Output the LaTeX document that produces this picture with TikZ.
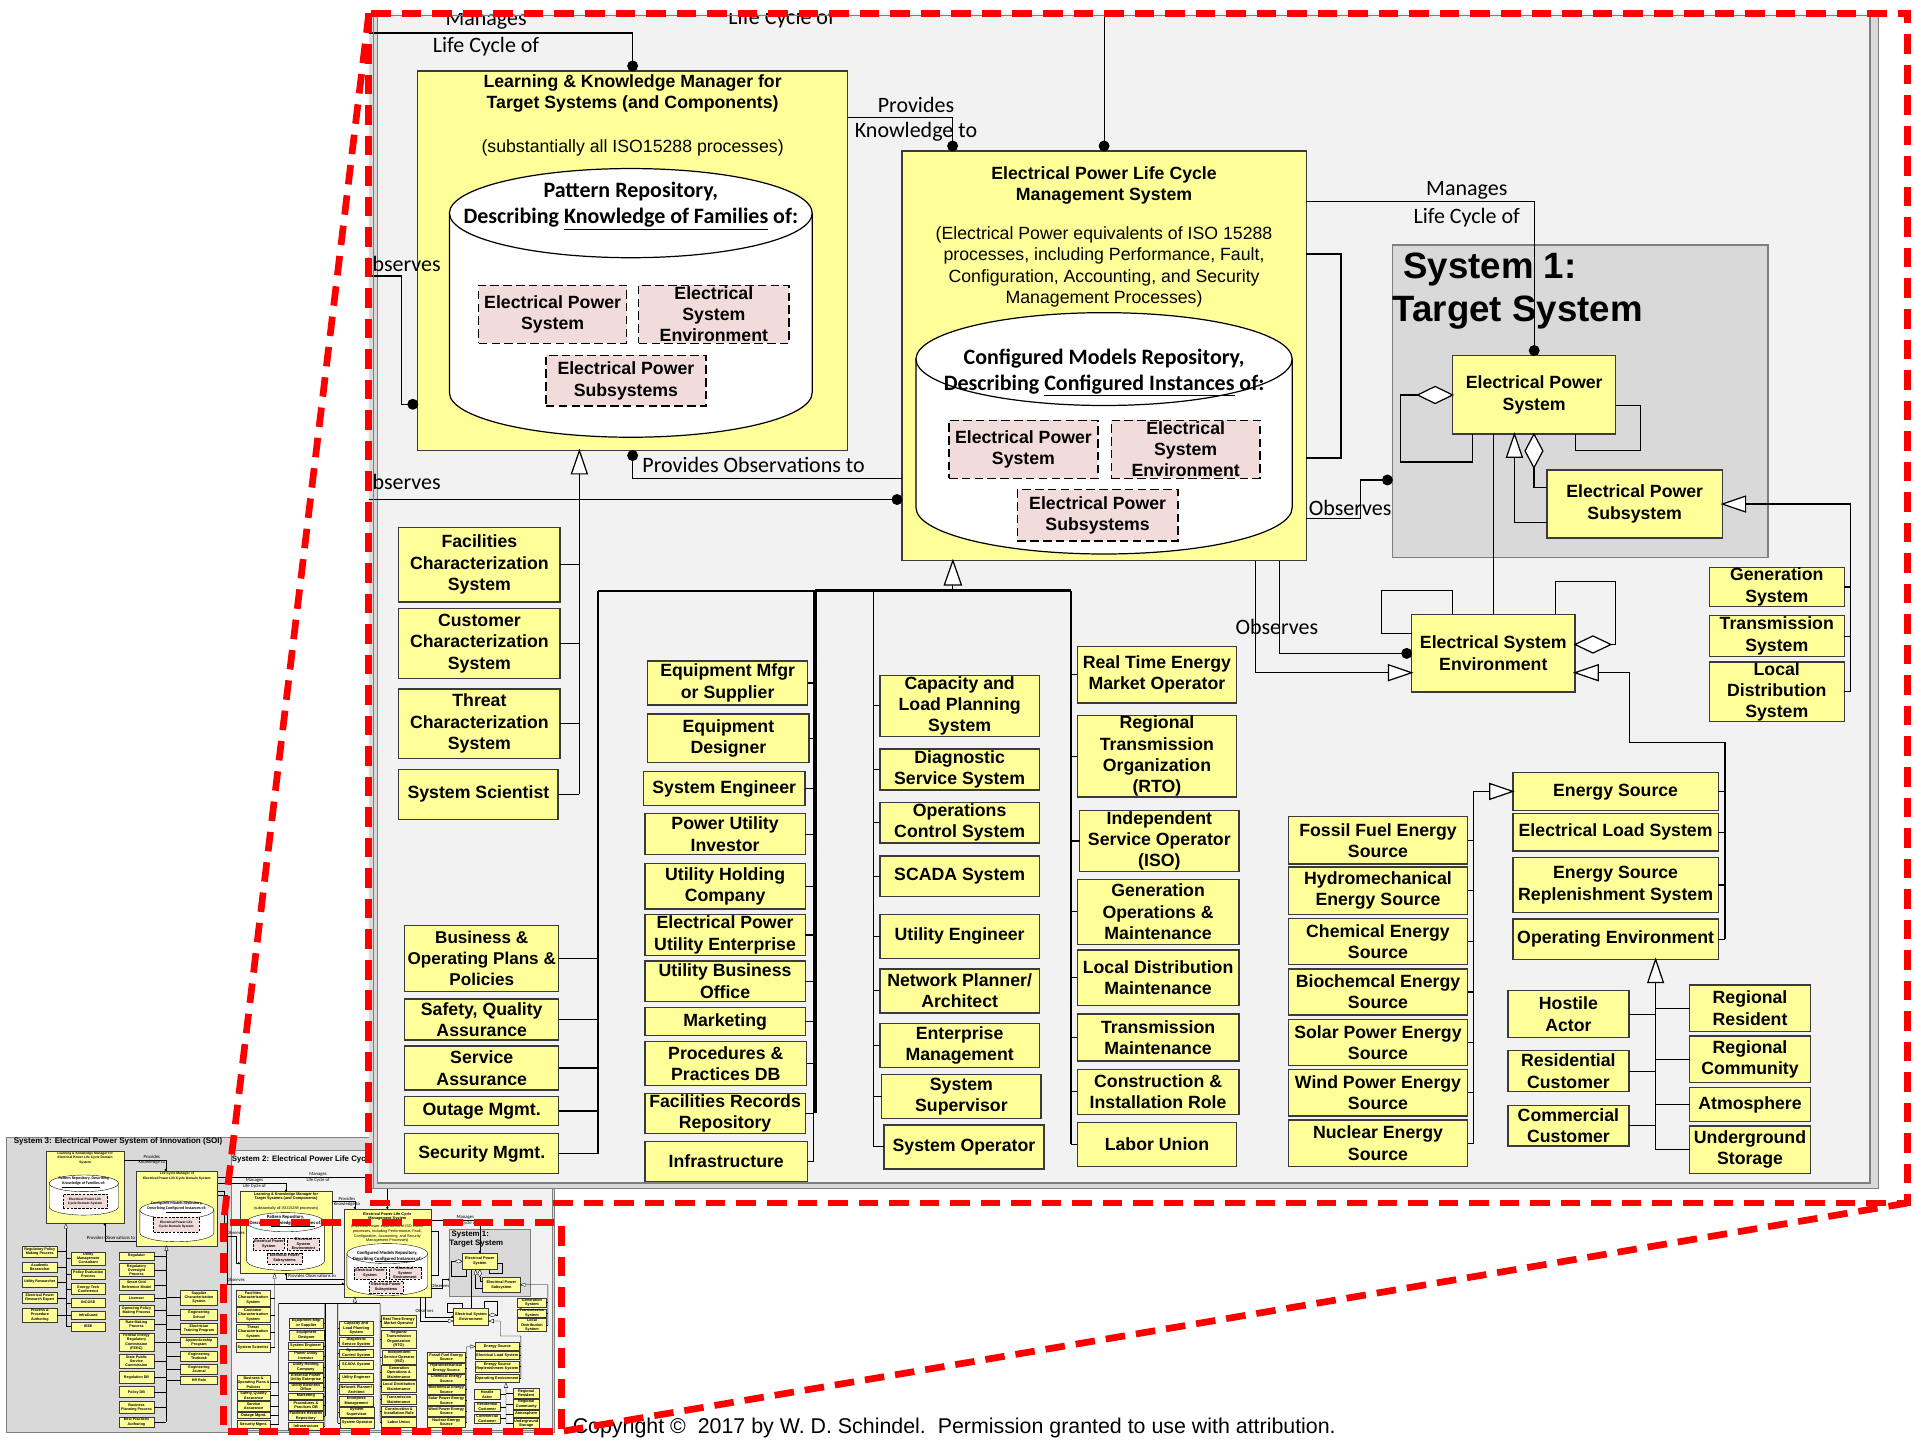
\documentclass[tikz,border=0pt]{standalone}
\usepackage{fontspec}
\setmainfont{Liberation Sans}
\newfontfamily\calfont{Carlito}
\usetikzlibrary{calc}

% base unit for line widths (reduced inside the small overview)
\newdimen\ulw
\ulw=1pt

\definecolor{boxyellow}{HTML}{FFFF99}
\definecolor{boxpink}{HTML}{F2DCDB}
\definecolor{panellight}{HTML}{F2F2F2}
\definecolor{panelgray}{HTML}{D9D9D9}
\definecolor{borderdark}{HTML}{3A3A3A}
\definecolor{bordergray}{HTML}{7F7F7F}

\tikzset{
  every node/.style={inner sep=0pt, outer sep=0pt},
  ybox/.style={draw=borderdark, fill=boxyellow, line width=1.1\ulw, align=center,
    font=\fontsize{14.5}{17.5}\selectfont\bfseries},
  pbox/.style={draw=black, fill=boxpink, line width=1\ulw, dash pattern={on 7\ulw off 3.5\ulw},
    align=center, font=\fontsize{14.5}{17.5}\selectfont\bfseries},
  graypanel/.style={draw=bordergray, fill=panelgray, line width=1.2\ulw},
  conn/.style={draw=black, line width=0.9\ulw},
  bus/.style={draw=black, line width=1.4\ulw},
  heavybus/.style={draw=black, line width=2.2\ulw},
  hollow/.style={draw=black, fill=white, line width=1\ulw, line join=miter},
  lbl/.style={font=\calfont\fontsize{18}{21}\selectfont},
  repo/.style={align=center, font=\calfont\bfseries\fontsize{18}{21.5}\selectfont},
  boxtitle/.style={align=center, font=\fontsize{14.5}{17.2}\selectfont\bfseries},
  boxdesc/.style={align=center, font=\fontsize{14.5}{17.6}\selectfont},
  bigtitle/.style={anchor=west, font=\fontsize{30}{34}\selectfont\bfseries},
  redframe/.style={draw=red, line width=5.5pt, dash pattern=on 16pt off 9pt},
  tbox/.style={ybox, font=\fontsize{3}{3.5}\selectfont\bfseries},
  tpbox/.style={pbox, font=\fontsize{2.7}{3.2}\selectfont\bfseries},
  tlbl/.style={font=\calfont\fontsize{3.9}{4.5}\selectfont},
  ttitle/.style={align=center, font=\fontsize{2.7}{3.4}\selectfont\bfseries},
  trepo/.style={align=center, font=\calfont\bfseries\fontsize{3.3}{4}\selectfont},
}

% box given by its corners: [style]{name}{x1}{y1}{x2}{y2}{text}
\newcommand\ybx[7][ybox]{%
  \node[#1, minimum width={(#5)-(#3)}, minimum height={(#6)-(#4)}] (#2)
    at ({((#3)+(#5))/2},{((#4)+(#6))/2}) {#7};}
% repository cylinder: {cx}{top centre y}{bottom centre y}{rx}{ry}
\newcommand\cyl[5]{%
  \filldraw[fill=white, draw=black, line width=1\ulw]
    ({(#1)-(#4)},#2) -- ({(#1)-(#4)},#3)
    arc[start angle=180, end angle=0, x radius=#4, y radius=#5]
    -- ({(#1)+(#4)},#2) -- cycle;
  \filldraw[fill=white, draw=black, line width=1\ulw] (#1,#2) ellipse[x radius=#4, y radius=#5];}
% hollow triangles (tip x, tip y, length, half width) and diamonds
\newcommand\triup[4]{\filldraw[hollow] (#1,#2) -- ++(-#4,#3) -- ++({2*#4},0) -- cycle;}
\newcommand\trileft[4]{\filldraw[hollow] (#1,#2) -- ++(#3,-#4) -- ++(0,{2*#4}) -- cycle;}
\newcommand\triright[4]{\filldraw[hollow] (#1,#2) -- ++(-#3,-#4) -- ++(0,{2*#4}) -- cycle;}
\newcommand\diah[4]{\filldraw[hollow] (#1,#3) -- ({((#1)+(#2))/2},{(#3)-(#4)}) -- (#2,#3) -- ({((#1)+(#2))/2},{(#3)+(#4)}) -- cycle;}
\newcommand\diav[4]{\filldraw[hollow] (#1,#2) -- ({(#1)+(#4)},{((#2)+(#3))/2}) -- (#1,#3) -- ({(#1)-(#4)},{((#2)+(#3))/2}) -- cycle;}
\newcommand\dotat[2]{\fill (#1,#2) circle[radius=4.5];}
\newcommand\tickE[2]{\draw[conn] (#1.east) -- (#1.east -| #2);}
\newcommand\tickW[2]{\draw[conn] (#1.west) -- (#1.west -| #2);}

% System 2 (with the System 3 backdrop), drawn in its own coordinates
\newcommand\sysview[1]{%
  \filldraw[graypanel] (-546,-151) rectangle (1538,973);
  \filldraw[fill=panellight, draw=bordergray, line width=1.2\ulw] (309,-100) rectangle (1531,968.6);
  \coordinate (#1busA) at (474.4,0);
  \coordinate (#1busB) at (489.8,0);
  \coordinate (#1busC) at (666.2,0);
  \coordinate (#1busD) at (715.1,0);
  \coordinate (#1busE) at (876.7,0);
  \coordinate (#1busF) at (1206.7,0);
  \coordinate (#1busG) at (1412.4,0);
  \coordinate (#1busH) at (1355.6,0);
  \coordinate (#1busI) at (1515.4,0);
  % Learning & Knowledge Manager
  \ybx{#1lkm}{342}{58}{694}{369}{}
  \node[boxtitle] (#1lkmt) at (518,76.5) {Learning \& Knowledge Manager for\\Target Systems (and Components)};
  \node[boxdesc] (#1lkmd) at (518,121) {(substantially all ISO15288 processes)};
  \cyl{516.5}{174.5}{321.5}{148.5}{36.5}
  \node[repo] (#1lkmr) at (516.5,168.7) {Pattern Repository,\\Describing \underline{Knowledge of Families} of:};
  \ybx[pbox]{#1lkmeps}{392}{233.5}{513}{281}{Electrical Power\\System}
  \ybx[pbox]{#1lkmese}{523}{233.5}{646}{281}{Electrical\\System\\Environment}
  \ybx[pbox]{#1lkmsub}{447}{291}{578}{332.5}{Electrical Power\\Subsystems}
  % Life Cycle Management System
  \ybx{#1lcm}{738.5}{123.5}{1069.5}{459}{}
  \node[boxtitle] (#1lcmt) at (904,152) {Electrical Power Life Cycle\\Management System};
  \node[boxdesc] (#1lcmd) at (904,218.5) {(Electrical Power equivalents of ISO 15288\\processes, including Performance, Fault,\\Configuration, Accounting, and Security\\Management Processes)};
  \cyl{904}{294}{415.6}{154}{38}
  \node[repo] (#1lcmr) at (904,305) {Configured Models Repository,\\Describing \underline{Configured Instances} of:};
  \ybx[pbox]{#1lcmeps}{777}{344}{899}{391.5}{Electrical Power\\System}
  \ybx[pbox]{#1lcmese}{910}{344}{1031.6}{391.5}{Electrical\\System\\Environment}
  \ybx[pbox]{#1lcmsub}{833}{401}{964.5}{443}{Electrical Power\\Subsystems}
  % System 1
  \ybx[graypanel]{#1sysone}{1140}{200.6}{1447.7}{456.5}{}
  \node[bigtitle] (#1sysonea) at (1149,221) {System 1:};
  \node[bigtitle] (#1sysoneb) at (1140.5,256) {Target System};
  \ybx{#1eps}{1189.4}{291}{1323}{355.4}{Electrical Power\\System}
  \ybx{#1epsub}{1266.7}{384.9}{1410.3}{440.5}{Electrical Power\\Subsystem}
  \ybx{#1ese}{1155.8}{503}{1289.6}{566.6}{Electrical System\\Environment}
  \ybx{#1gen}{1399.6}{464.7}{1510}{496.6}{Generation\\System}
  \ybx{#1trs}{1399.6}{504.1}{1510}{537.5}{Transmission\\System}
  \ybx{#1lds}{1399.6}{541.9}{1510}{591}{Local\\Distribution\\System}
  % characterization column
  \ybx{#1fcs}{326.5}{431.8}{458.6}{493}{Facilities\\Characterization\\System}
  \ybx{#1ccs}{326.5}{498.2}{458.6}{555.4}{Customer\\Characterization\\System}
  \ybx{#1tcs}{326.5}{564}{458.6}{621}{Threat\\Characterization\\System}
  \ybx{#1sci}{326.5}{630}{457}{670.8}{System Scientist}
  % management processes column
  \ybx[ybox, font=\fontsize{14}{17.5}\selectfont\bfseries]{#1bop}{331.4}{757.7}{457.5}{811.8}{Business \&\\Operating Plans \&\\Policies}
  \ybx{#1sqa}{331.4}{818}{457.5}{851.5}{Safety, Quality\\Assurance}
  \ybx{#1sas}{331.4}{856.5}{457.5}{892.5}{Service\\Assurance}
  \ybx{#1oms}{331.4}{897.6}{457.5}{921.8}{Outage Mgmt.}
  \ybx{#1sms}{331.4}{928.2}{457.5}{960.9}{Security Mgmt.}
  % stakeholder column
  \ybx{#1emfg}{530.3}{541.2}{661.3}{577.3}{Equipment Mfgr\\or Supplier}
  \ybx{#1edes}{530.3}{584.5}{662.5}{624.3}{Equipment\\Designer}
  \ybx{#1seng}{527}{631.7}{659}{659.7}{System Engineer}
  \ybx{#1pui}{528}{666.2}{659.4}{699.9}{Power Utility\\Investor}
  \ybx{#1uhc}{528}{707}{659.4}{744.3}{Utility Holding\\Company}
  \ybx{#1epue}{528}{748.9}{659.4}{782.3}{Electrical Power\\Utility Enterprise}
  \ybx{#1ubo}{528}{786.9}{659.4}{819.9}{Utility Business\\Office}
  \ybx{#1mkt}{528}{824.9}{659.4}{848}{Marketing}
  \ybx{#1ppdb}{528}{852.6}{660.5}{888.8}{Procedures \&\\Practices DB}
  \ybx{#1frr}{528}{895.2}{659.4}{928.2}{Facilities Records\\Repository}
  \ybx{#1infra}{528}{934.9}{661.3}{967.3}{Infrastructure}
  % operations column
  \ybx{#1clp}{720.5}{552.9}{851}{603}{Capacity and\\Load Planning\\System}
  \ybx{#1dss}{720.5}{613.3}{851}{646.9}{Diagnostic\\Service System}
  \ybx{#1ocs}{720.5}{657}{851}{690.2}{Operations\\Control System}
  \ybx{#1scada}{720.5}{700.8}{851}{734}{SCADA System}
  \ybx{#1ueng}{720.5}{748.7}{851}{784.8}{Utility Engineer}
  \ybx{#1npa}{720.5}{793.3}{851}{829.3}{Network Planner/\\Architect}
  \ybx{#1emg}{720.5}{838}{851}{874}{Enterprise\\Management}
  \ybx{#1ssup}{722}{879.7}{852.4}{915.8}{System\\Supervisor}
  \ybx{#1sop}{723.8}{921}{854.8}{957.2}{System Operator}
  % market and maintenance column
  \ybx{#1rtem}{882}{529.4}{1012.6}{575.5}{Real Time Energy\\Market Operator}
  \ybx{#1rto}{882}{585.8}{1012.6}{652.6}{Regional\\Transmission\\Organization\\(RTO)}
  \ybx{#1iso}{884}{663.5}{1014.5}{713.7}{Independent\\Service Operator\\(ISO)}
  \ybx{#1gom}{882}{719.9}{1014.5}{773.2}{Generation\\Operations \&\\Maintenance}
  \ybx{#1ldm}{882}{777.9}{1014.5}{823.3}{Local Distribution\\Maintenance}
  \ybx{#1tmn}{882}{830.2}{1014.5}{868.8}{Transmission\\Maintenance}
  \ybx{#1cir}{882}{875.6}{1014.5}{912.3}{Construction \&\\Installation Role}
  \ybx{#1lun}{882}{918.9}{1012.6}{954.9}{Labor Union}
  % energy sources
  \ybx{#1ffes}{1055}{668.7}{1201.6}{707.5}{Fossil Fuel Energy\\Source}
  \ybx{#1hmes}{1055}{710}{1201.6}{748.6}{Hydromechanical\\Energy Source}
  \ybx{#1ces}{1055}{752}{1201.6}{789.6}{Chemical Energy\\Source}
  \ybx{#1bes}{1055}{793.4}{1201.6}{831}{Biochemcal Energy\\Source}
  \ybx{#1spes}{1055}{834.6}{1201.6}{872.6}{Solar Power Energy\\Source}
  \ybx{#1wpes}{1055}{875.5}{1201.6}{913.8}{Wind Power Energy\\Source}
  \ybx{#1nes}{1055}{917}{1201.6}{955.3}{Nuclear Energy\\Source}
  \ybx{#1es}{1238.7}{632.7}{1407}{663.8}{Energy Source}
  \ybx{#1els}{1238.7}{666}{1407}{696.8}{Electrical Load System}
  \ybx{#1esrs}{1238.7}{702}{1407}{747.3}{Energy Source\\Replenishment System}
  \ybx{#1oe}{1238.7}{752.5}{1407}{785.5}{Operating Environment}
  \ybx{#1ha}{1234.7}{811.2}{1333.7}{849.4}{Hostile\\Actor}
  \ybx{#1rc}{1234.7}{860.3}{1333.7}{893.9}{Residential\\Customer}
  \ybx{#1cc}{1234.7}{905}{1333.7}{938.4}{Commercial\\Customer}
  \ybx{#1rr}{1383.5}{806.5}{1482.3}{844.7}{Regional\\Resident}
  \ybx{#1rcm}{1383.5}{848.3}{1482.3}{886.5}{Regional\\Community}
  \ybx{#1atm}{1383.5}{890.6}{1482.3}{918.4}{Atmosphere}
  \ybx{#1ugs}{1383.5}{922}{1482.3}{960.7}{Underground\\Storage}
  % --- associations entering from System 3
  \draw[conn] (257,27) -| (#1lkm.north);
  \dotat{518}{54}
  \node[lbl] (#1la) at (398,16.4) {Manages};
  \node[lbl] (#1lb) at (398,38.2) {Life Cycle of};
  \draw[conn] (257,2) -| (#1lcm.north);
  \dotat{904}{119.5}
  \node[lbl] (#1ld) at (640,15) {Life Cycle of};
  \draw[conn] (257,58) -- (281,58) -- (281,226) -- (328.4,226) |- (#1lkm.west |- 0,331);
  \dotat{338}{331}
  \node[lbl] (#1le) at (327,216) {Observes};
  \draw[conn] (257,72) -- (295,72) |- (#1lcm.west |- 0,409);
  \dotat{734.5}{409}
  \node[lbl] (#1lf) at (327,395) {Observes};
  % --- associations inside System 2
  \draw[conn] (#1lkm.east |- 0,96) -| (#1lcm.north -| 780,0);
  \dotat{780}{119.5}
  \node[lbl] (#1lg) at (750,86) {Provides};
  \node[lbl] (#1lh) at (750,107.5) {Knowledge to};
  \draw[conn] (#1lkm.south) |- (#1lcm.west |- 0,391.5);
  \dotat{518}{373}
  \node[lbl] (#1li) at (617,380.7) {Provides Observations to};
  \draw[conn] (#1lcm.east |- 0,165) -| (#1eps.north);
  \dotat{1256.2}{287}
  \node[lbl] (#1lj) at (1201,155.7) {Manages};
  \node[lbl] (#1lk) at (1201,178) {Life Cycle of};
  \draw[conn] (#1lcm.east |- 0,208) -- (1098,208) -- (1098,375) -- (#1lcm.east |- 0,375);
  \draw[conn] (#1lcm.east |- 0,424.5) -- (1113.6,424.5) |- (#1sysone.west |- 0,393);
  \dotat{1136}{393}
  \node[lbl] (#1ll) at (1105.5,416) {Observes};
  \draw[conn] (#1lcm.south -| 1047.3,0) |- (#1ese.west |- 0,535);
  \dotat{1151.8}{535}
  \node[lbl] (#1lm) at (1045.5,513) {Observes};
  \draw[conn] (#1lcm.south -| 1028.2,0) |- (1136.8,550.8);
  \triright{1155.8}{550.8}{19}{6.5}
  % --- System 1 structure
  \draw[conn] (1160.7,323.4) -- (1147,323.4) -- (1147,378.3) -| (#1eps.south -| 1206,0);
  \diah{1160.7}{1189.4}{323.4}{7}
  \draw[conn] (#1eps.east |- 0,332) -- (1343,332) |- (1290,368.5) -- (#1eps.south -| 1290,0);
  \draw[conn] (#1epsub.west |- 0,427.6) -| (1240,374.4);
  \triup{1240}{355.4}{19}{6.5}
  \draw[conn] (#1epsub.west |- 0,398.8) -| (1256,383);
  \diav{1256}{355.4}{383}{7.3}
  \draw[conn] (#1eps.south -| 1222.7,0) -- (#1ese.north -| 1222.7,0);
  \draw[conn] (#1ese.west |- 0,519) -- (1131.3,519) |- (1189.5,483.4) -- (#1ese.north -| 1189.5,0);
  \draw[conn] (1319,527.7) -- (1322.4,527.7) |- (1273.3,476.3) -- (#1ese.north -| 1273.3,0);
  \diah{1289.6}{1319}{527.7}{7}
  \draw[conn] (1308.6,550.8) -- (1334,550.8) |- (1412.4,608) -- (#1oe.east -| #1busG);
  \trileft{1289.6}{550.8}{19}{6.5}
  \tickE{#1es}{#1busG} \tickE{#1els}{#1busG} \tickE{#1esrs}{#1busG} \tickE{#1oe}{#1busG}
  \draw[conn] (1429.3,412.7) -- (1515.4,412.7) -- (#1lds.east -| #1busI);
  \trileft{1410.3}{412.7}{19}{6.5}
  \tickE{#1gen}{#1busI} \tickE{#1trs}{#1busI} \tickE{#1lds}{#1busI}
  % --- energy source taxonomy
  \draw[conn] (1219.7,648) -- (1206.7,648) -- (#1nes.east -| #1busF);
  \triright{1238.7}{648}{19}{6.5}
  \tickE{#1ffes}{#1busF} \tickE{#1hmes}{#1busF} \tickE{#1ces}{#1busF} \tickE{#1bes}{#1busF}
  \tickE{#1spes}{#1busF} \tickE{#1wpes}{#1busF} \tickE{#1nes}{#1busF}
  \draw[conn] (1355.6,804.5) -- (#1ugs.west -| #1busH);
  \triup{1355.6}{785.5}{19}{6.4}
  \tickE{#1ha}{#1busH} \tickE{#1rc}{#1busH} \tickE{#1cc}{#1busH}
  \tickW{#1rr}{#1busH} \tickW{#1rcm}{#1busH} \tickW{#1atm}{#1busH} \tickW{#1ugs}{#1busH}
  % --- specialisations of the knowledge manager
  \draw[conn] (474.4,387.5) -- (#1sci.east -| #1busA);
  \triup{474.4}{369}{19}{6.5}
  \tickE{#1fcs}{#1busA} \tickE{#1ccs}{#1busA} \tickE{#1tcs}{#1busA} \tickE{#1sci}{#1busA}
  % --- specialisations of the life cycle management system
  \draw[conn] (780.2,478) -- (780.2,483.7);
  \triup{780.2}{459}{20}{7}
  \draw[bus] (489.8,483.7) -- (667.7,483.7);
  \draw[heavybus] (667.7,483.7) -- (876.7,483.7);
  \draw[bus] (489.8,483.7) -- (#1sms.east -| #1busB);
  \draw[heavybus] (667.7,483.7) -- (667.7,911.2);
  \draw[conn] (666.2,483.7) -- (#1infra.east -| #1busC);
  \draw[bus] (715.1,483.7) -- (#1sop.west -| #1busD);
  \draw[bus] (876.7,483.7) -- (#1lun.west -| #1busE);
  \tickE{#1bop}{#1busB} \tickE{#1sqa}{#1busB} \tickE{#1sas}{#1busB} \tickE{#1oms}{#1busB} \tickE{#1sms}{#1busB}
  \tickE{#1emfg}{#1busC} \tickE{#1edes}{#1busC} \tickE{#1seng}{#1busC} \tickE{#1pui}{#1busC}
  \tickE{#1uhc}{#1busC} \tickE{#1epue}{#1busC} \tickE{#1ubo}{#1busC} \tickE{#1mkt}{#1busC}
  \tickE{#1ppdb}{#1busC} \tickE{#1frr}{#1busC} \tickE{#1infra}{#1busC}
  \tickW{#1clp}{#1busD} \tickW{#1dss}{#1busD} \tickW{#1ocs}{#1busD} \tickW{#1scada}{#1busD}
  \tickW{#1ueng}{#1busD} \tickW{#1npa}{#1busD} \tickW{#1emg}{#1busD} \tickW{#1ssup}{#1busD} \tickW{#1sop}{#1busD}
  \tickW{#1rtem}{#1busE} \tickW{#1rto}{#1busE} \tickW{#1iso}{#1busE} \tickW{#1gom}{#1busE}
  \tickW{#1ldm}{#1busE} \tickW{#1tmn}{#1busE} \tickW{#1cir}{#1busE} \tickW{#1lun}{#1busE}
}

\begin{document}
\begin{tikzpicture}[x=1pt, y=-1pt]
  \useasboundingbox (0,0) rectangle (1568,1179);
  \fill[white] (0,0) rectangle (1568,1179);

  % ===== overview of the whole model =====
  \begin{scope}
    \ulw=0.3pt
    \begin{scope}[shift={(122.8,963.2)}, scale=0.215, transform shape]
      \sysview{t}
      \node[lbl] (tlc) at (640,-7) {Manages};
    \end{scope}
    \node[anchor=west, font=\fontsize{6.45}{7.5}\selectfont\bfseries] (s2title) at (189.9,949.2) {System 2: Electrical Power Life Cycle};
    \node[anchor=west, font=\fontsize{6.6}{7.5}\selectfont\bfseries] (s3title) at (11.3,934.4) {System 3: Electrical Power System of Innovation (SOI)};
    % knowledge manager of System 3
    \ybx[tbox]{s3lkm}{37.9}{942.5}{101.5}{1001.7}{}
    \node[ttitle] (s3lkmt) at (69.7,948.2) {Learning \& Knowledge Manager for\\Electrical Power Life Cycle Domain\\System};
    \cyl{68.65}{968.9}{988.1}{28.35}{6.8}
    \node[trepo] (s3lkmr) at (68.65,968.2) {Pattern Repository, Describing\\\underline{Knowledge of Families} of:};
    \ybx[tpbox]{s3lkmp}{51.5}{977.7}{87.9}{989.4}{Electrical Power Life\\Cycle Domain System}
    % life cycle manager of System 3
    \ybx[tbox]{s3lcm}{111.5}{958.8}{178.1}{1020}{}
    \node[ttitle] (s3lcmt) at (144.8,963) {Life Cycle Manager of\\Electrical Power Life Cycle Domain System};
    \cyl{144.8}{990.7}{1009.4}{30.3}{7.3}
    \node[trepo] (s3lcmr) at (144.8,988.6) {Configured Models Repository,\\Describing \underline{Configured Instances} of:};
    \ybx[tpbox]{s3lcmp}{125.7}{996.2}{163}{1008.5}{Electrical Power Life\\Cycle Domain System}
    \coordinate (s3busa) at (53.9,0);
    \coordinate (s3busb) at (136.3,0);
    \draw[conn] (s3lkm.east |- 0,949.8) -| (s3lcm.north -| 135.7,0);
    \fill (135.7,957.9) circle[radius=0.95];
    \node[tlbl] (s3la) at (124.3,947.4) {Provides};
    \node[tlbl] (s3lb) at (124.3,951.9) {Knowledge to};
    \draw[conn] (s3lkm.south -| 85.7,0) |- (s3lcm.west |- 0,1015.9);
    \fill (85.7,1002.6) circle[radius=0.95];
    \node[tlbl] (s3lc) at (90.9,1013.3) {Provides Observations to};
    % role boxes of System 3
    \ybx[tbox]{s3a}{18.2}{1020}{47}{1029.5}{Regulatory Policy\\Making Process}
    \ybx[tbox]{s3b}{18.2}{1033.6}{47}{1041.3}{Academic\\Researcher}
    \ybx[tbox]{s3c}{18.2}{1045.3}{47}{1054}{Utility Researcher}
    \ybx[tbox]{s3d}{18.2}{1058.2}{47}{1067.2}{Electrical Power\\Research Expert}
    \ybx[tbox]{s3e}{18.2}{1071.3}{47}{1082.2}{Process \&\\Procedure\\Authoring}
    \ybx[tbox]{s3f}{58.2}{1024.9}{86.3}{1035.8}{Utility\\Management\\Consultant}
    \ybx[tbox]{s3g}{58.2}{1039.1}{86.3}{1047.3}{Policy Evaluation\\Process}
    \ybx[tbox]{s3h}{58.2}{1050.8}{86.3}{1059.8}{Energy Tech\\Conference}
    \ybx[tbox]{s3i}{58.2}{1063.1}{86.3}{1070.2}{INCOSE}
    \ybx[tbox]{s3j}{58.2}{1073.2}{86.3}{1080.3}{InfraGuard}
    \ybx[tbox]{s3k}{58.2}{1082.7}{86.3}{1089.8}{IEEE}
    \ybx[tbox]{s3m1}{97.5}{1024.9}{126}{1031.7}{Regulator}
    \ybx[tbox]{s3m2}{97.5}{1034.4}{126}{1045.3}{Regulatory\\Oversight\\Process}
    \ybx[tbox]{s3m3}{97.5}{1047.5}{126}{1056.3}{Smart Grid\\Reference Model}
    \ybx[tbox]{s3m4}{97.5}{1059.5}{126}{1065.8}{Licensor}
    \ybx[tbox]{s3m5}{97.5}{1068.5}{126}{1077.3}{Operating Policy\\Making Process}
    \ybx[tbox]{s3m6}{97.5}{1080}{126}{1089}{Rate Making\\Process}
    \ybx[tbox]{s3m7}{97.5}{1091.7}{126}{1106}{Federal Energy\\Regulatory\\Commission\\(FERC)}
    \ybx[tbox]{s3m8}{97.5}{1109}{126}{1120.4}{State Public\\Service\\Commission}
    \ybx[tbox]{s3m9}{97.5}{1123.1}{126}{1132.7}{Regulation DB}
    \ybx[tbox]{s3m10}{97.5}{1135.4}{126}{1144.4}{Policy DB}
    \ybx[tbox]{s3m11}{97.5}{1147.2}{126}{1157.2}{Business\\Planning Process}
    \ybx[tbox]{s3m12}{97.5}{1160}{126}{1168.7}{Best Practices\\Authoring}
    \ybx[tbox]{s3n1}{147.8}{1056.3}{178.1}{1068.5}{Supplier\\Characterization\\System}
    \ybx[tbox]{s3n2}{147.8}{1072.1}{178.1}{1080.8}{Engineering\\School}
    \ybx[tbox]{s3n3}{147.8}{1083.5}{178.1}{1092.6}{Electrician\\Training Program}
    \ybx[tbox]{s3n4}{147.8}{1095}{178.1}{1103.2}{Apprenticeship\\Program}
    \ybx[tbox]{s3n5}{147.8}{1106.2}{178.1}{1114.4}{Engineering\\Textbook}
    \ybx[tbox]{s3n6}{147.8}{1117.1}{178.1}{1125.3}{Engineering\\Journal}
    \ybx[tbox]{s3n7}{147.8}{1127.2}{178.1}{1133.5}{HR Role}
    \draw[conn] (53.9,1005.7) -- (s3k.west -| s3busa);
    \triup{53.9}{1001.7}{4}{1.4}
    \draw[conn] (136.3,1024) -- (s3m12.east -| s3busb);
    \triup{136.3}{1020}{4}{1.4}
    \tickE{s3a}{s3busa} \tickE{s3b}{s3busa} \tickE{s3c}{s3busa} \tickE{s3d}{s3busa} \tickE{s3e}{s3busa}
    \tickW{s3f}{s3busa} \tickW{s3g}{s3busa} \tickW{s3h}{s3busa} \tickW{s3i}{s3busa} \tickW{s3j}{s3busa} \tickW{s3k}{s3busa}
    \tickE{s3m1}{s3busb} \tickE{s3m2}{s3busb} \tickE{s3m3}{s3busb} \tickE{s3m4}{s3busb}
    \tickE{s3m5}{s3busb} \tickE{s3m6}{s3busb} \tickE{s3m7}{s3busb} \tickE{s3m8}{s3busb}
    \tickE{s3m9}{s3busb} \tickE{s3m10}{s3busb} \tickE{s3m11}{s3busb} \tickE{s3m12}{s3busb}
    \tickW{s3n1}{s3busb} \tickW{s3n2}{s3busb} \tickW{s3n3}{s3busb} \tickW{s3n4}{s3busb}
    \tickW{s3n5}{s3busb} \tickW{s3n6}{s3busb} \tickW{s3n7}{s3busb}
  \end{scope}

  % ===== enlarged view of System 2 =====
  \begin{scope}
    \clip (302,11) rectangle (1562,985);
    \sysview{m}
    \draw[bordergray, line width=1.2pt] (305.7,973) -- (305.7,12.6) -- (1538,12.6);
  \end{scope}

  \node[anchor=west, font=\fontsize{17.5}{20}\selectfont] (copyright) at (469,1169)
    {Copyright ©\ \ 2017 by W. D. Schindel.\ \ Permission granted to use with attribution.};

  % zoom frame
  \draw[redframe] (183,1001) rectangle (460,1172);
  \draw[redframe] (302,11) -- (183,1001);
  \draw[redframe] (1562,985) -- (460,1172);
  \draw[redframe] (302,11) rectangle (1562,985);
\end{tikzpicture}
\end{document}
